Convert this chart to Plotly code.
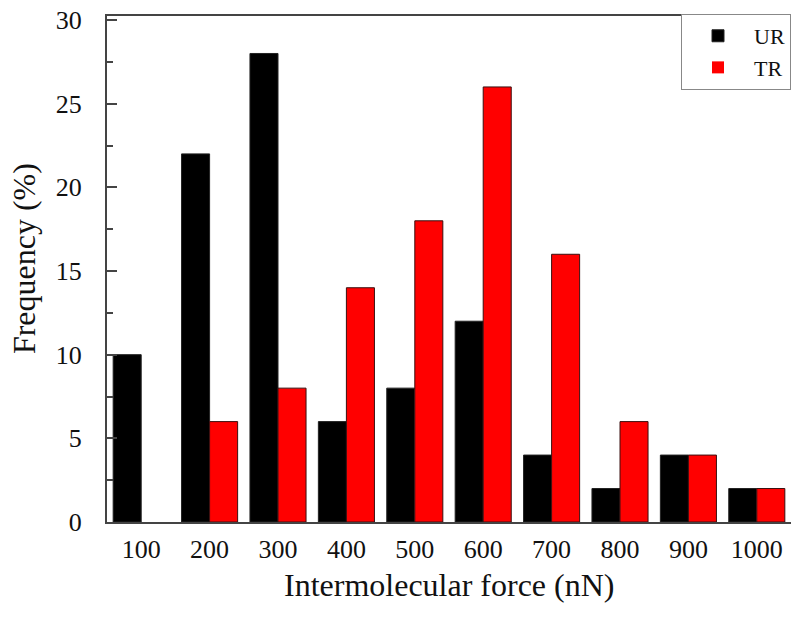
import plotly.graph_objects as go

categories = ["100", "200", "300", "400", "500", "600", "700", "800", "900", "1000"]
ur_values = [10, 22, 28, 6, 8, 12, 4, 2, 4, 2]
tr_values = [0, 6, 8, 14, 18, 26, 16, 6, 4, 2]
y_ticks = [0, 5, 10, 15, 20, 25, 30]

font_family = "Liberation Serif, Times New Roman, serif"

fig = go.Figure()
fig.add_trace(go.Bar(x=categories, y=ur_values, name="UR",
                     marker=dict(color="#000000", line=dict(color="#222222", width=1))))
fig.add_trace(go.Bar(x=categories, y=tr_values, name="TR",
                     marker=dict(color="#ff0000",
                                 line=dict(color="#3a1010",
                                           width=[0 if v == 0 else 1 for v in tr_values]))))

fig.update_layout(
    width=791, height=619,
    margin=dict(l=107, r=0, t=16, b=97),
    paper_bgcolor="white", plot_bgcolor="white",
    barmode="group", bargap=0.18, bargroupgap=0,
    font=dict(family=font_family, size=26, color="#111111"),
    showlegend=True,
    legend=dict(x=1, y=1.004, xanchor="right", yanchor="top",
                bgcolor="white", bordercolor="#888888", borderwidth=1,
                font=dict(size=22, family=font_family), tracegroupgap=0,
                itemwidth=62),
    xaxis=dict(type="category", range=[-0.5, 9.5], showline=True, linecolor="#444444",
               linewidth=2, mirror=True, ticks="", showgrid=False, zeroline=False,
               tickfont=dict(size=26), ticklabelstandoff=3),
    yaxis=dict(range=[0, 30.24], tickvals=y_ticks, showline=True, linecolor="#444444",
               linewidth=2, ticks="inside", ticklen=10, tickwidth=2, tickcolor="#444444",
               minor=dict(ticks="inside", ticklen=6, tickwidth=2, tickcolor="#444444", dtick=2.5),
               showgrid=False, zeroline=False, tickfont=dict(size=26),
               ticklabelstandoff=18),
    annotations=[
        dict(text="Intermolecular force (nN)", xref="paper", yref="paper",
             x=0.5, y=-0.125, xanchor="center", yanchor="middle",
             showarrow=False, font=dict(size=32)),
        dict(text="Frequency (%)", xref="paper", yref="paper", textangle=-90,
             x=-0.121, y=0.52, xanchor="center", yanchor="middle",
             showarrow=False, font=dict(size=32)),
    ],
)

fig.write_html("out.html")
